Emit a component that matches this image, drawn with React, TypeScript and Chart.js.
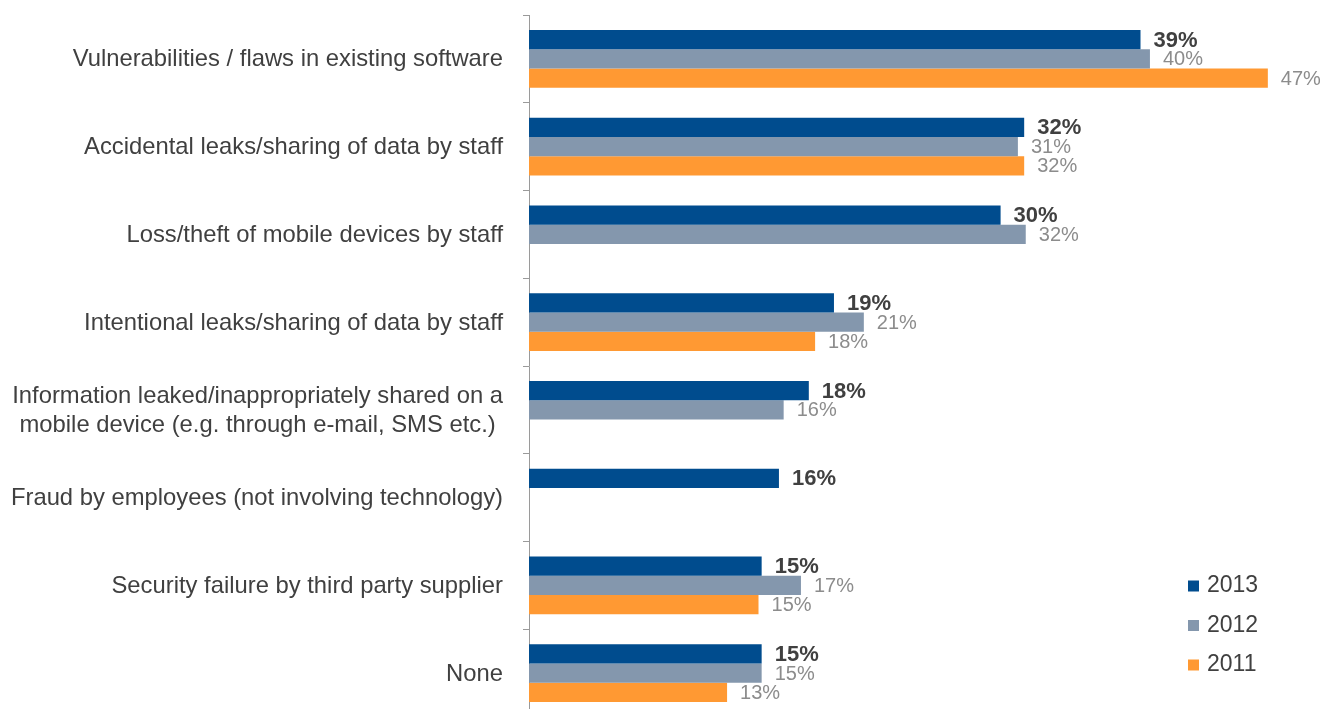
import React, { useEffect, useRef } from "react";
import { Chart, registerables } from "chart.js";

Chart.register(...registerables);

const categories: string[][] = [
  ["Vulnerabilities / flaws in existing software"],
  ["Accidental leaks/sharing of data by staff"],
  ["Loss/theft of mobile devices by staff"],
  ["Intentional leaks/sharing of data by staff"],
  ["Information leaked/inappropriately shared on a", "mobile device (e.g. through e-mail, SMS etc.)"],
  ["Fraud by employees (not involving technology)"],
  ["Security failure by third party supplier"],
  ["None"],
];

const seriesNames = ["2013", "2012", "2011"];

// bar lengths (percent)
const values2013 = [38.9, 31.5, 30.0, 19.4, 17.8, 15.9, 14.8, 14.8];
const values2012 = [39.5, 31.1, 31.6, 21.3, 16.2, null, 17.3, 14.8];
const values2011 = [47.0, 31.5, null, 18.2, null, null, 14.6, 12.6];

// printed labels (percent)
const printed2013 = [39, 32, 30, 19, 18, 16, 15, 15];
const printed2012 = [40, 31, 32, 21, 16, null, 17, 15];
const printed2011 = [47, 32, null, 18, null, null, 15, 13];

const FONT = "'Liberation Sans', Arial, Helvetica, sans-serif";

const valueLabelPlugin = {
  id: "valueLabels",
  afterDatasetsDraw(chart: any) {
    const ctx = chart.ctx;
    ctx.save();
    chart.data.datasets.forEach((ds: any, i: number) => {
      const meta = chart.getDatasetMeta(i);
      meta.data.forEach((bar: any, j: number) => {
        const p = ds.printed[j];
        if (p == null) return;
        if (i === 0) {
          ctx.font = `bold 22px ${FONT}`;
          ctx.fillStyle = "#404040";
        } else {
          ctx.font = `20px ${FONT}`;
          ctx.fillStyle = "#8C8C8C";
        }
        ctx.textAlign = "left";
        ctx.textBaseline = "middle";
        ctx.fillText(p + "%", bar.x + 13, bar.y + 1);
      });
    });
    ctx.restore();
  },
};

const categoryLabelPlugin = {
  id: "categoryLabels",
  afterDraw(chart: any) {
    const ctx = chart.ctx;
    const y = chart.scales.y;
    ctx.save();
    ctx.font = `23.8px ${FONT}`;
    ctx.fillStyle = "#404040";
    ctx.textBaseline = "middle";
    const right = y.right - 26;
    const lineH = 28.5;
    categories.forEach((lines, i) => {
      const cy = y.getPixelForValue(i);
      if (lines.length === 1) {
        ctx.textAlign = "right";
        ctx.fillText(lines[0], right, cy + 1);
      } else {
        const maxW = Math.max(...lines.map((l) => ctx.measureText(l).width));
        const cx = right - maxW / 2;
        ctx.textAlign = "center";
        const startY = cy - ((lines.length - 1) * lineH) / 2 + 1;
        lines.forEach((l, k) => ctx.fillText(l, cx, startY + k * lineH));
      }
    });
    ctx.restore();
  },
};

const legendPlugin = {
  id: "customLegend",
  afterDraw(chart: any) {
    const ctx = chart.ctx;
    ctx.save();
    const x0 = 1188;
    const yStart = 586;
    const gap = 39.5;
    chart.data.datasets.forEach((ds: any, i: number) => {
      const cy = yStart + i * gap;
      ctx.fillStyle = ds.backgroundColor;
      ctx.fillRect(x0, cy - 5.5, 11, 11);
      ctx.font = `23px ${FONT}`;
      ctx.fillStyle = "#404040";
      ctx.textAlign = "left";
      ctx.textBaseline = "middle";
      ctx.fillText(ds.label, x0 + 19, cy);
    });
    ctx.restore();
  },
};

export default function App() {
  const canvasRef = useRef<HTMLCanvasElement | null>(null);

  useEffect(() => {
    if (!canvasRef.current) return;
    const colors = ["#004C8E", "#8497AD", "#FF9933"];
    const vals = [values2013, values2012, values2011];
    const prints = [printed2013, printed2012, printed2011];
    const chart = new Chart(canvasRef.current, {
      type: "bar",
      data: {
        labels: categories.map((c) => c.join(" ")),
        datasets: seriesNames.map((name, i) => ({
          label: name,
          data: vals[i] as any,
          printed: prints[i],
          backgroundColor: colors[i],
          borderWidth: 0,
          categoryPercentage: 0.66,
          barPercentage: 1.0,
        })) as any,
      },
      options: {
        indexAxis: "y",
        responsive: false,
        animation: false,
        events: [],
        layout: { padding: { top: 15, bottom: 13, left: 0, right: 5 } },
        plugins: {
          legend: { display: false },
          tooltip: { enabled: false },
          title: { display: false },
        },
        scales: {
          x: {
            type: "linear",
            display: false,
            min: 0,
            max: 50,
          },
          y: {
            type: "category",
            offset: true,
            grid: {
              display: true,
              drawOnChartArea: false,
              drawTicks: true,
              tickLength: 6,
              color: "#9A9A9A",
              offset: true,
            },
            border: { display: true, color: "#9A9A9A", width: 1 },
            ticks: { display: false },
            afterFit(scale: any) {
              scale.width = 529;
            },
          },
        },
      } as any,
      plugins: [valueLabelPlugin, categoryLabelPlugin, legendPlugin],
    });
    return () => chart.destroy();
  }, []);

  return (
    <div
      style={{
        position: "fixed",
        left: 0,
        top: 0,
        width: 1320,
        height: 709,
        overflow: "hidden",
        background: "#ffffff",
      }}
    >
      <canvas ref={canvasRef} width={1320} height={730} style={{ display: "block" }} />
    </div>
  );
}
